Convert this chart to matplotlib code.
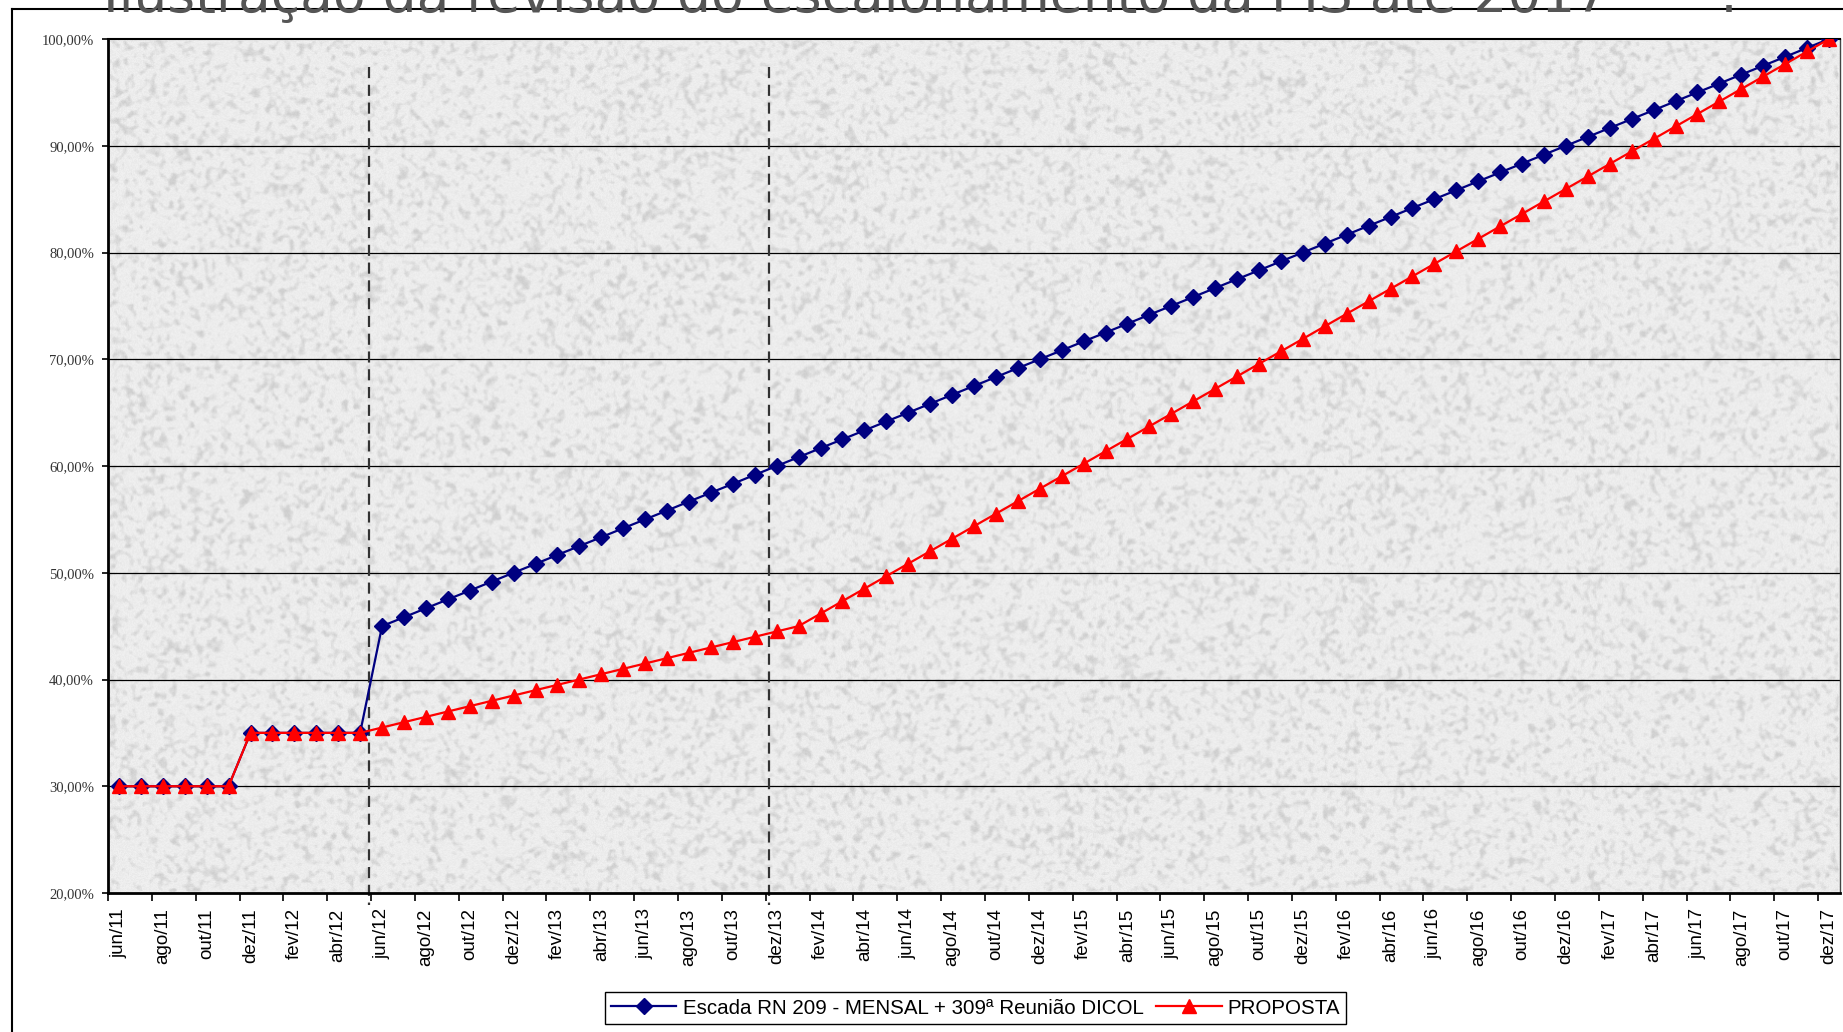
import numpy as np
import matplotlib
matplotlib.use("Agg")
import matplotlib.pyplot as plt
from matplotlib.lines import Line2D

# ---------------- data ----------------
month_names = ["jan", "fev", "mar", "abr", "mai", "jun", "jul", "ago", "set", "out", "nov", "dez"]
start_year, start_month = 2011, 6   # jun/11
n_months = 79                       # jun/11 .. dez/17

escada = [
    30.00, 30.00, 30.00, 30.00, 30.00, 30.00,
    35.00, 35.00, 35.00, 35.00, 35.00, 35.00,
    45.00, 45.83, 46.67, 47.50, 48.33, 49.17, 50.00, 50.83, 51.67, 52.50,
    53.33, 54.17, 55.00, 55.83, 56.67, 57.50, 58.33, 59.17, 60.00, 60.83,
    61.67, 62.50, 63.33, 64.17, 65.00, 65.83, 66.67, 67.50, 68.33, 69.17,
    70.00, 70.83, 71.67, 72.50, 73.33, 74.17, 75.00, 75.83, 76.67, 77.50,
    78.33, 79.17, 80.00, 80.83, 81.67, 82.50, 83.33, 84.17, 85.00, 85.83,
    86.67, 87.50, 88.33, 89.17, 90.00, 90.83, 91.67, 92.50, 93.33, 94.17,
    95.00, 95.83, 96.67, 97.50, 98.33, 99.17, 100.00,
]

proposta = [
    30.00, 30.00, 30.00, 30.00, 30.00, 30.00,
    35.00, 35.00, 35.00, 35.00, 35.00, 35.00,
    35.50, 36.00, 36.50, 37.00, 37.50, 38.00, 38.50, 39.00, 39.50, 40.00,
    40.50, 41.00, 41.50, 42.00, 42.50, 43.00, 43.50, 44.00, 44.50,
    45.00, 46.17, 47.34, 48.51, 49.68, 50.85, 52.02, 53.19, 54.36, 55.53,
    56.70, 57.87, 59.04, 60.21, 61.38, 62.55, 63.72, 64.89, 66.06, 67.23,
    68.40, 69.57, 70.74, 71.91, 73.09, 74.26, 75.43, 76.60, 77.77, 78.94,
    80.11, 81.28, 82.45, 83.62, 84.79, 85.96, 87.13, 88.30, 89.47, 90.64,
    91.81, 92.98, 94.15, 95.32, 96.49, 97.66, 98.83, 100.00,
]

y_ticks = [20, 30, 40, 50, 60, 70, 80, 90, 100]
marker_lines = [11.4, 29.65]   # dashed vertical markers (category units)

series_labels = ["Escada RN 209 - MENSAL + 309ª Reunião DICOL", "PROPOSTA"]
title_text = "Ilustração da revisão do escalonamento da PIS até 2017"

# category labels
categories = []
for i in range(n_months):
    m = (start_month - 1 + i) % 12
    y = start_year + (start_month - 1 + i) // 12
    categories.append(f"{month_names[m]}/{y % 100:02d}")

# ---------------- figure ----------------
W, H = 1843, 1032
fig = plt.figure(figsize=(W / 100, H / 100), dpi=100)
fig.patch.set_facecolor("white")

ax_l, ax_r = 108 / W, 1840 / W
ax_b, ax_t = 1 - 893 / H, 1 - 39 / H
pos = [ax_l, ax_b, ax_r - ax_l, ax_t - ax_b]

# textured background (granite-like, decorative only)
bg = fig.add_axes(pos, zorder=0)
rng = np.random.default_rng(7)
small = rng.random((285, 575))
big = np.kron(small, np.ones((3, 3)))
k = np.ones(5) / 5
big = np.apply_along_axis(lambda r: np.convolve(r, k, mode="same"), 1, big)
big = np.apply_along_axis(lambda c: np.convolve(c, k, mode="same"), 0, big)
specks = np.clip((big - 0.5) * 3.0, 0, 1)
fine = rng.random(big.shape)
tex = 0.945 - 0.11 * specks - 0.035 * fine
bg.imshow(tex, cmap="gray", vmin=0, vmax=1, aspect="auto", interpolation="bilinear",
          extent=[0, 1, 0, 1])
bg.set_axis_off()

ax = fig.add_axes(pos, zorder=1)
ax.patch.set_alpha(0)

x = np.arange(n_months)
ax.plot(x, escada, color="#000080", lw=1.6, marker="D", ms=7.8,
        markeredgecolor="#000080", markerfacecolor="#000080", label=series_labels[0], zorder=3)
ax.plot(x, proposta, color="#FF0000", lw=1.6, marker="^", ms=10,
        markeredgecolor="#FF0000", markerfacecolor="#FF0000", label=series_labels[1], zorder=4)

ax.set_xlim(-0.5, n_months - 0.5)
ax.set_ylim(20, 100)

# gridlines
for yt in y_ticks[1:-1]:
    ax.axhline(yt, color="black", lw=0.9, zorder=1)

# dashed markers (extend slightly beyond bottom axis)
for xv in marker_lines:
    ax.plot([xv, xv], [97.4, 18.9], color="#333333", lw=1.6, ls=(0, (5, 3)),
            clip_on=False, zorder=2)

# y axis
ax.set_yticks(y_ticks)
ax.set_yticklabels([f"{v},00%" for v in y_ticks], family="Liberation Serif",
                   fontsize=10.5, color="#333333")
ax.tick_params(axis="y", direction="out", length=4, width=1.2, pad=6)

# x axis: tick marks at category boundaries, labels at even categories
ax.set_xticks(x[::2])
ax.set_xticklabels(categories[::2], rotation=90, family="Liberation Sans",
                   fontsize=13.5, va="top", ha="center")
ax.set_xticks(np.arange(-0.5, n_months, 2), minor=True)
ax.tick_params(axis="x", which="major", length=0, pad=11)
ax.tick_params(axis="x", which="minor", direction="out", length=6, width=1.2)

for s in ["left", "bottom"]:
    ax.spines[s].set_linewidth(2)
    ax.spines[s].set_color("black")
ax.spines["top"].set_linewidth(1.5)
ax.spines["top"].set_color("black")
ax.spines["right"].set_linewidth(1)
ax.spines["right"].set_color("#444444")

# legend
leg = fig.legend(loc="center", bbox_to_anchor=(975.5 / W, 1 - 1008 / H),
                 bbox_transform=fig.transFigure, ncol=2, frameon=True, fancybox=False,
                 edgecolor="black", framealpha=1, prop={"family": "Liberation Sans", "size": 14.8},
                 handlelength=3.2, handletextpad=0.3, columnspacing=0.6, borderpad=0.3)
leg.get_frame().set_linewidth(1.0)

# outer chart frame
fig.add_artist(Line2D([12 / W, 12 / W], [0, 1 - 9 / H], transform=fig.transFigure,
                      color="black", lw=1.5))
fig.add_artist(Line2D([12 / W, 1], [1 - 9 / H, 1 - 9 / H], transform=fig.transFigure,
                      color="black", lw=1.5))

# title (partially cut at top, as in the reference)
fig.text(103 / W, 1 - 12 / H, title_text, fontsize=38.4, color="#555555",
         va="baseline", ha="left", family="DejaVu Sans", zorder=5)
fig.text(1720 / W, 1 - 12 / H, ":", fontsize=38.4, color="#555555",
         va="baseline", ha="left", family="DejaVu Sans", zorder=5)

fig.savefig("out.png", dpi=100)
